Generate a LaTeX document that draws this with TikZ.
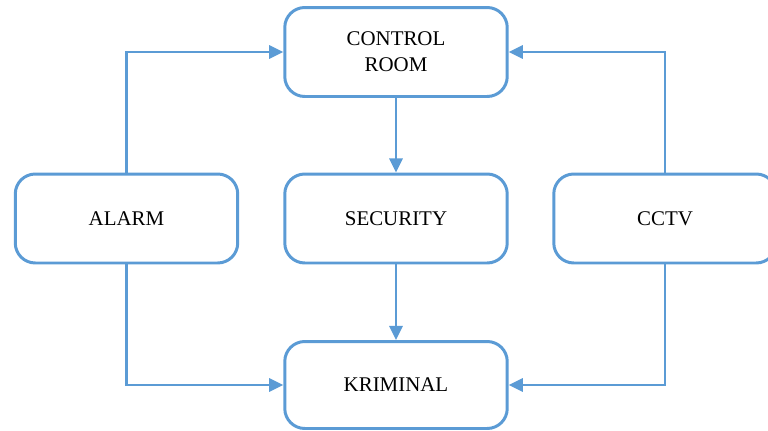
\documentclass[tikz,border=0pt]{standalone}
\usepackage{fontspec}
\setmainfont{Liberation Serif}
\usetikzlibrary{arrows.meta}
\definecolor{boxblue}{RGB}{91,155,213}
\tikzset{
    unit/.style={draw=boxblue, line width=1.7pt, rounded corners=0.4cm, fill=white,
        minimum width=4.45cm, minimum height=1.78cm, align=center,
        font=\fontsize{11.9}{14.7}\selectfont},
    conn/.style={draw=boxblue, line width=1.5pt, -{Triangle[length=8pt,width=7.5pt]}}
}
\begin{document}
\begin{tikzpicture}[x=0.02cm, y=-0.02cm]
        \useasboundingbox (0, 0) rectangle (768, 430);
        % boxes
        \node[unit] (ctrl) at (396, 52){CONTROL\\ROOM};
        \node[unit] (alarm) at (126.5, 218.5){ALARM};
        \node[unit] (sec) at (396, 218.5){SECURITY};
        \node[unit] (cctv) at (665, 218.5){CCTV};
        \node[unit, minimum height=1.74cm] (krim) at (396, 385){KRIMINAL};
        % arrows
        \draw[conn] (alarm.north) |- (ctrl.west);
        \draw[conn] (cctv.north) |- (ctrl.east);
        \draw[conn] (ctrl.south) to (sec.north);
        \draw[conn] (sec.south) to (krim.north);
        \draw[conn] (alarm.south) |- (krim.west);
        \draw[conn] (cctv.south) |- (krim.east);
    \end{tikzpicture}
\end{document}
